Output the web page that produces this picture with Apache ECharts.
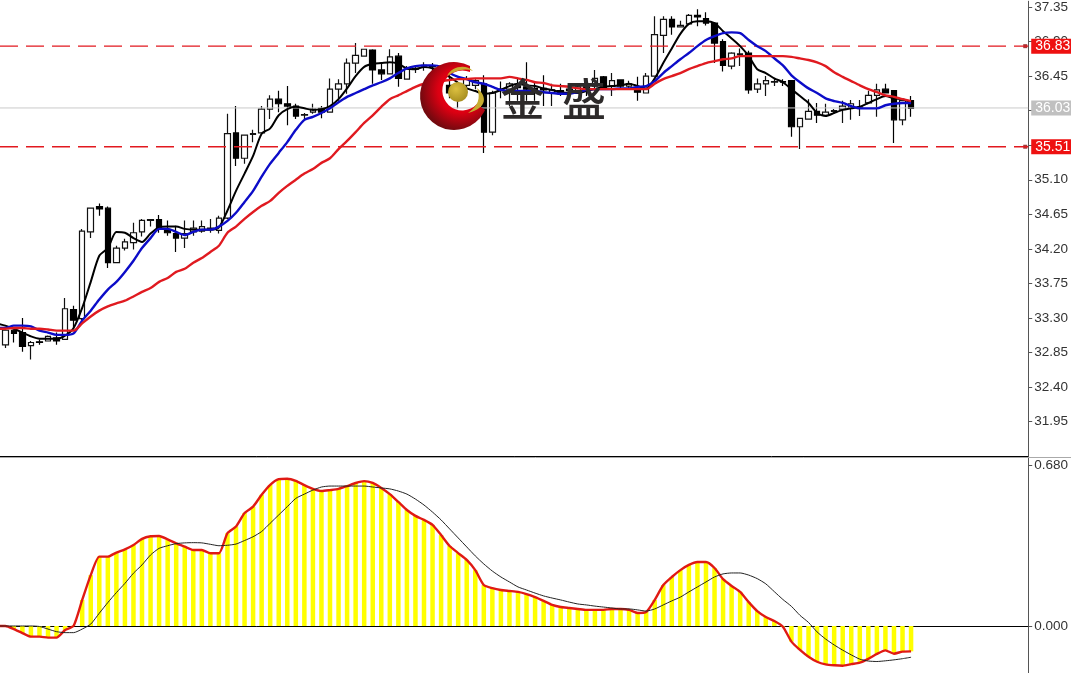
<!DOCTYPE html>
<html><head><meta charset="utf-8">
<style>html,body{margin:0;padding:0;background:#fff}#c{width:1071px;height:673px}</style>
<script src="https://cdn.jsdelivr.net/npm/echarts@6/dist/echarts.min.js"></script>
</head><body><div id="c"></div>
<script>
const openP=[32.95,33.14,33.11,32.94,32.99,33.0,33.04,33.02,33.41,33.29,34.42,34.75,34.73,34.02,34.21,34.28,34.42,34.57,34.58,34.45,34.40,34.34,34.42,34.43,34.46,34.44,34.60,35.71,35.38,35.69,35.71,36.02,36.15,36.09,36.06,35.94,35.98,36.03,35.98,36.28,36.35,36.62,36.71,36.79,36.53,36.48,36.71,36.41,36.54,36.58,36.58,36.57,36.33,36.26,36.33,36.33,36.35,35.72,36.28,36.28,36.32,36.31,36.29,36.29,36.23,36.26,36.28,36.26,36.31,36.32,36.44,36.32,36.40,36.32,36.28,36.23,36.45,36.98,37.19,37.09,37.13,37.24,37.20,37.14,36.90,36.58,36.73,36.75,36.28,36.35,36.37,36.38,36.39,35.79,35.89,35.99,35.94,35.99,36.02,36.03,36.04,36.10,36.20,36.28,36.26,35.88,36.13];
const closeP=[33.14,33.10,32.93,32.98,32.98,33.06,33.0,33.42,33.27,34.43,34.73,34.72,34.02,34.21,34.29,34.41,34.57,34.58,34.46,34.41,34.34,34.40,34.47,34.49,34.47,34.60,35.70,35.38,35.68,35.70,36.02,36.15,36.09,36.06,35.93,35.95,36.02,35.98,36.28,36.35,36.62,36.72,36.80,36.53,36.48,36.70,36.42,36.54,36.55,36.59,36.57,36.45,36.23,36.33,36.41,36.39,35.72,36.23,36.26,36.35,36.30,36.28,36.27,36.27,36.27,36.22,36.26,36.31,36.27,36.42,36.29,36.39,36.32,36.35,36.24,36.45,36.99,37.19,37.09,37.11,37.24,37.22,37.14,36.88,36.59,36.75,36.74,36.27,36.35,36.39,36.38,36.37,35.79,35.90,35.99,35.94,35.98,36.0,36.06,36.09,36.05,36.20,36.27,36.23,35.88,36.13,36.03];
const lowP=[32.91,32.98,32.86,32.76,32.95,33.0,32.95,33.02,33.17,33.27,34.34,34.63,33.95,34.02,34.18,34.19,34.36,34.49,34.41,34.37,34.16,34.21,34.37,34.41,34.41,34.40,34.59,35.28,35.31,35.59,35.71,35.89,35.98,35.81,35.89,35.89,35.96,35.90,35.98,36.13,36.22,36.49,36.71,36.35,36.40,36.48,36.31,36.41,36.49,36.52,36.49,36.39,36.16,36.03,36.23,36.28,35.45,35.68,36.16,36.06,36.13,36.13,36.13,36.06,36.06,36.19,36.23,36.23,36.19,36.26,36.28,36.19,36.28,36.28,36.13,36.23,36.45,36.75,36.99,37.09,37.13,37.10,37.11,36.62,36.51,36.54,36.58,36.22,36.23,36.19,36.32,36.32,35.66,35.50,35.89,35.84,35.94,35.97,35.84,35.88,35.93,36.10,35.92,36.23,35.58,35.81,35.92];
const highP=[33.14,33.15,33.30,33.0,33.02,33.07,33.11,33.56,33.46,34.46,34.73,34.79,34.75,34.24,34.33,34.54,34.59,34.59,34.64,34.57,34.50,34.57,34.57,34.57,34.59,34.63,35.96,36.06,35.68,35.75,36.06,36.20,36.26,36.32,36.09,35.97,36.09,36.06,36.42,36.41,36.68,36.88,36.80,36.80,36.63,36.80,36.75,36.58,36.59,36.63,36.62,36.59,36.46,36.38,36.45,36.41,36.46,36.26,36.38,36.37,36.42,36.63,36.38,36.46,36.35,36.35,36.32,36.33,36.39,36.53,36.45,36.49,36.41,36.39,36.44,36.49,37.23,37.23,37.23,37.17,37.26,37.32,37.28,37.15,36.93,36.76,36.81,36.78,36.42,36.45,36.42,36.41,36.39,35.90,36.15,36.10,36.09,36.02,36.13,36.14,36.14,36.26,36.35,36.35,36.26,36.13,36.19];
const maFast=[33.20,33.16,33.11,33.06,33.03,33.03,33.03,33.07,33.17,33.43,33.77,34.11,34.21,34.42,34.41,34.34,34.29,34.40,34.48,34.49,34.49,34.46,34.45,34.45,34.45,34.48,34.70,34.955,35.18,35.41,35.70,35.77,35.94,36.02,36.05,36.03,36.01,36.02,36.06,36.15,36.29,36.45,36.57,36.61,36.62,36.63,36.61,36.55,36.54,36.57,36.55,36.49,36.44,36.36,36.29,36.255,36.22,36.23,36.27,36.32,36.35,36.33,36.32,36.29,36.27,36.24,36.23,36.23,36.255,36.28,36.31,36.32,36.33,36.35,36.32,36.29,36.42,36.62,36.81,37.0,37.13,37.165,37.165,37.14,37.035,36.94,36.84,36.71,36.54,36.49,36.42,36.37,36.28,36.19,36.10,35.97,35.93,35.97,36.01,36.03,36.05,36.10,36.15,36.19,36.16,36.15,36.10];
const maMid=[33.17,33.20,33.20,33.19,33.135,33.11,33.08,33.08,33.10,33.265,33.395,33.54,33.67,33.77,33.90,34.045,34.21,34.34,34.46,34.46,34.42,34.38,34.42,34.45,34.45,34.49,34.565,34.67,34.81,34.955,35.14,35.31,35.45,35.59,35.75,35.88,35.92,35.97,36.03,36.11,36.18,36.23,36.28,36.33,36.37,36.42,36.49,36.55,36.58,36.59,36.59,36.57,36.49,36.44,36.41,36.37,36.35,36.31,36.27,36.255,36.255,36.255,36.255,36.24,36.23,36.22,36.22,36.24,36.27,36.28,36.28,36.28,36.29,36.29,36.31,36.32,36.385,36.49,36.58,36.67,36.75,36.84,36.92,36.97,37.01,37.02,37.01,36.92,36.84,36.775,36.68,36.59,36.46,36.37,36.29,36.23,36.16,36.125,36.10,36.06,36.03,36.03,36.03,36.07,36.09,36.10,36.10];
const maSlow=[33.16,33.17,33.17,33.16,33.16,33.15,33.135,33.135,33.135,33.23,33.32,33.395,33.45,33.49,33.525,33.58,33.64,33.69,33.77,33.82,33.90,33.94,34.02,34.08,34.16,34.24,34.41,34.49,34.59,34.68,34.76,34.825,34.93,35.02,35.10,35.18,35.24,35.32,35.38,35.50,35.605,35.72,35.84,35.94,36.05,36.15,36.20,36.255,36.31,36.35,36.37,36.385,36.40,36.41,36.41,36.42,36.42,36.42,36.42,36.44,36.42,36.40,36.37,36.36,36.33,36.32,36.31,36.29,36.28,36.28,36.28,36.28,36.28,36.28,36.28,36.28,36.35,36.41,36.45,36.49,36.54,36.58,36.62,36.645,36.67,36.68,36.71,36.71,36.71,36.71,36.71,36.71,36.70,36.68,36.66,36.63,36.58,36.50,36.44,36.385,36.33,36.28,36.24,36.20,36.18,36.15,36.125];
const macdHist=[0,-0.013,-0.03,-0.045,-0.045,-0.049,-0.049,-0.017,0.001,0.110,0.215,0.293,0.293,0.31,0.324,0.342,0.368,0.379,0.38,0.366,0.349,0.335,0.321,0.321,0.307,0.307,0.392,0.42,0.477,0.504,0.554,0.596,0.62,0.622,0.613,0.595,0.579,0.57,0.574,0.579,0.591,0.604,0.612,0.604,0.583,0.557,0.524,0.49,0.465,0.448,0.427,0.384,0.338,0.308,0.279,0.236,0.173,0.16,0.152,0.148,0.144,0.135,0.122,0.106,0.089,0.08,0.076,0.072,0.068,0.068,0.068,0.072,0.072,0.068,0.055,0.059,0.11,0.173,0.207,0.236,0.258,0.27,0.27,0.245,0.198,0.169,0.144,0.101,0.063,0.038,0.021,-0.003,-0.066,-0.101,-0.13,-0.151,-0.162,-0.166,-0.168,-0.161,-0.155,-0.139,-0.118,-0.103,-0.117,-0.108,-0.107];
const macdSignal=[0,0,0,0,-0.002,-0.013,-0.024,-0.028,-0.028,-0.013,0.008,0.054,0.099,0.141,0.18,0.223,0.258,0.3,0.328,0.339,0.348,0.351,0.352,0.351,0.345,0.339,0.341,0.346,0.361,0.377,0.399,0.434,0.469,0.504,0.539,0.557,0.574,0.587,0.591,0.591,0.591,0.591,0.591,0.587,0.583,0.579,0.57,0.557,0.536,0.511,0.481,0.448,0.41,0.372,0.334,0.296,0.262,0.232,0.207,0.186,0.165,0.152,0.139,0.127,0.118,0.11,0.101,0.093,0.089,0.084,0.08,0.076,0.072,0.072,0.068,0.063,0.072,0.089,0.106,0.122,0.144,0.165,0.186,0.207,0.22,0.224,0.224,0.215,0.20,0.178,0.145,0.112,0.083,0.045,0.015,-0.025,-0.055,-0.08,-0.102,-0.122,-0.14,-0.148,-0.15,-0.147,-0.143,-0.138,-0.132];
/* readings for the bar just off the left edge, whose lines run into view */
const leadFast=33.23, leadMid=33.17, leadSlow=33.16, leadHist=0, leadSignal=0;
const priceTicks=[31.95,32.40,32.85,33.30,33.75,34.20,34.65,35.10,35.55,36.00,36.45,36.90,37.35];
const priceLabels=[31.95,32.40,32.85,33.30,33.75,34.20,34.65,35.10,36.45,36.90,37.35];
const macdTicks=[0,0.68];
const levelPrices=[36.84,35.53];
const levelTags=['36.83','35.51'];
const lastPrice=36.035;
const lastTag='36.03';
const watermark=['金','盛'];

const idx=openP.map((_,i)=>i);
const pair=(a,lead)=>[[-1,lead]].concat(a.map((v,i)=>[i,v]));
const XMIN=-0.619,XMAX=119.71;
const FONT='"Liberation Sans",Arial,sans-serif';
const lineS=(data,lead,color,width)=>({type:'line',xAxisIndex:0,yAxisIndex:0,data:pair(data,lead),symbol:'none',silent:true,smooth:0.25,lineStyle:{color,width}});
const levelS=(v,tag,col,dash,bg,w)=>({type:'line',xAxisIndex:0,yAxisIndex:0,symbol:'none',silent:true,data:[[XMIN,v],[XMAX,v]],
  lineStyle:{color:col,type:dash,width:w},
  endLabel:{show:true,distance:3,formatter:tag,color:'#fff',backgroundColor:bg,padding:[1,2,0,4],fontSize:14,fontFamily:FONT}});
const gold='#c6ac30';
const chart=echarts.init(document.getElementById('c'),null,{renderer:'canvas'});
chart.setOption({
  animation:false,backgroundColor:'#fff',
  grid:[{left:0,top:0,width:1030,height:456},{left:0,top:458,width:1030,height:215}],
  xAxis:[
    {type:'value',gridIndex:0,min:XMIN,max:XMAX,splitLine:{show:false},axisLabel:{show:false},axisTick:{show:false},
     axisLine:{show:true,onZero:false,lineStyle:{color:'#000',width:1}}},
    {type:'value',gridIndex:1,min:XMIN,max:XMAX,splitLine:{show:false},axisLabel:{show:false},axisTick:{show:false},
     axisLine:{show:true,onZero:true,lineStyle:{color:'#000',width:1}}}
  ],
  yAxis:[
    {type:'value',gridIndex:0,position:'right',min:31.502,max:37.425,scale:true,splitLine:{show:false},
     axisLine:{show:true,onZero:false,lineStyle:{color:'#555',width:1}},
     axisTick:{show:true,length:4,lineStyle:{color:'#555'},customValues:priceTicks},
     axisLabel:{color:'#333',fontSize:13.5,fontFamily:FONT,margin:6,customValues:priceLabels,formatter:v=>v.toFixed(2)}},
    {type:'value',gridIndex:1,position:'right',min:-0.1985,max:0.7095,splitLine:{show:false},
     axisLine:{show:true,onZero:false,lineStyle:{color:'#555',width:1}},
     axisTick:{show:true,length:4,lineStyle:{color:'#555'},customValues:macdTicks},
     axisLabel:{color:'#333',fontSize:13.5,fontFamily:FONT,margin:6,customValues:macdTicks,formatter:v=>v.toFixed(3)}}
  ],
  series:[
    levelS(lastPrice,lastTag,'#cacaca','solid','#c0c0c0',1),
    {type:'candlestick',name:'price',xAxisIndex:0,yAxisIndex:0,barWidth:6,encode:{x:0,y:[1,2,3,4]},
     data:idx.map(i=>[i,openP[i],closeP[i],lowP[i],highP[i]]),
     itemStyle:{color:'#fff',color0:'#000',borderColor:'#111',borderColor0:'#000',borderWidth:1.2}},
    levelS(levelPrices[0],levelTags[0],'#e2191f',[18,8],'#ee1111',1.3),
    levelS(levelPrices[1],levelTags[1],'#e2191f',[18,8],'#ee1111',1.3),
    lineS(maFast,leadFast,'#000',2),
    lineS(maMid,leadMid,'#0c0cc8',2.4),
    lineS(maSlow,leadSlow,'#e01a20',2.4),
    {type:'scatter',name:'handles',xAxisIndex:0,yAxisIndex:0,symbol:'rect',symbolSize:4,itemStyle:{color:'#8a0c0c'},
     data:levelPrices.map(v=>[119.36,v])},
    {type:'bar',name:'hist',xAxisIndex:1,yAxisIndex:1,barWidth:4.5,data:macdHist.map((v,i)=>[i,v]),itemStyle:{color:'#ffff00'}},
    {type:'line',name:'histLine',xAxisIndex:1,yAxisIndex:1,data:pair(macdHist,leadHist),symbol:'none',z:4,smooth:0.2,lineStyle:{color:'#e01a14',width:2.4}},
    {type:'line',name:'signal',xAxisIndex:1,yAxisIndex:1,data:pair(macdSignal,leadSignal),symbol:'none',z:5,smooth:0.2,lineStyle:{color:'#222',width:1}},
    {type:'custom',name:'logo',coordinateSystem:'none',z:60,silent:true,data:[[0]],clip:false,
     renderItem:()=>({type:'group',children:[
       {type:'path',shape:{pathData:'M470 66 A34 34 0 1 0 485 110 L477 104 A20 20 0 1 1 470 72 Z'},
        style:{fill:{type:'radial',x:0.62,y:0.42,r:0.62,colorStops:[{offset:0,color:'#ff0018'},{offset:0.55,color:'#dc0012'},{offset:1,color:'#74090f'}]}}},
       {type:'path',shape:{pathData:'M447 76 C452 66 466 64 473 71 C465 68 456 70 447 76 Z'},style:{fill:gold}},
       {type:'path',shape:{pathData:'M468 113 C478 106 481 98 477 88 C487 96 488 108 468 113 Z'},style:{fill:gold}},
       {type:'circle',shape:{cx:458,cy:92,r:10},style:{fill:{type:'radial',x:0.4,y:0.35,r:0.7,colorStops:[{offset:0,color:'#dcc040'},{offset:1,color:'#a58c1e'}]}}}
     ]})}
  ],
  graphic:[
    {type:'line',z:50,shape:{x1:0,y1:457.5,x2:1071,y2:457.5},style:{stroke:'#aaa',lineWidth:1}},
    {type:'text',z:70,style:{x:522.5,y:99,text:watermark[0],align:'center',verticalAlign:'middle',fill:'#2d2a2a',font:'500 44px "Noto Sans CJK SC"'}},
    {type:'text',z:70,style:{x:584,y:99,text:watermark[1],align:'center',verticalAlign:'middle',fill:'#2d2a2a',font:'500 44px "Noto Sans CJK SC"'}}
  ]
});
</script></body></html>
